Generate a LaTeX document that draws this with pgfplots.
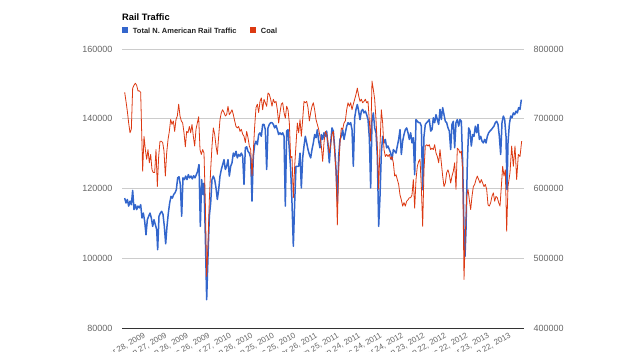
\documentclass[border=0pt]{standalone}
\usepackage{fontspec}
\setmainfont{Liberation Sans}
\usepackage{pgfplots}
\pgfplotsset{compat=1.18}
\usepackage{pgfplotstable}
\definecolor{railblue}{HTML}{3366CC}
\definecolor{coalred}{HTML}{DC3912}
\definecolor{gridgray}{HTML}{CCCCCC}
\definecolor{ticktext}{HTML}{666666}
\definecolor{basegray}{HTML}{333333}

\pgfplotstableread{
x y
124.67 117300
126.0 115900
127.33 116900
128.67 115000
130.0 116400
131.33 115400
132.67 119500
134.0 114000
135.33 115400
136.67 114000
138.0 115000
139.33 114500
140.67 115400
142.0 111600
143.33 113000
144.67 110700
146.0 106800
147.33 111100
148.67 112100
150.0 113000
151.33 111600
152.67 109200
154.0 111100
155.33 109700
156.67 108300
157.67 102500
159.0 112100
160.33 113000
161.67 113500
163.0 112600
164.33 109200
165.67 104200
167.0 109200
168.33 113000
169.67 115900
171.0 117800
172.33 117300
173.67 118300
175.0 118800
176.33 119700
177.67 123100
179.0 123400
180.33 121200
181.67 112100
183.0 123100
184.33 122600
185.67 123600
187.0 122600
188.33 124000
189.67 123100
191.0 123600
192.33 122800
193.67 123700
195.0 123100
196.33 124000
197.67 125000
199.0 126900
200.33 109200
201.67 122600
203.0 118300
204.0 121600
205.33 106300
206.67 88200
208.0 100600
209.33 112100
210.67 115900
212.0 122600
213.33 123600
214.67 122600
216.0 120200
217.33 116900
218.67 119700
220.0 123600
221.33 125500
222.67 126900
224.0 128300
225.33 125500
226.67 126400
228.0 128300
229.33 123600
230.67 126400
232.0 127400
233.33 130200
234.67 129300
236.0 130700
237.33 128800
238.67 129800
240.0 129300
241.33 130200
242.67 129300
244.0 121200
245.33 131700
246.67 132000
248.0 130700
249.33 130200
250.67 128800
252.0 116400
253.33 129300
254.67 132600
256.0 133600
257.33 132600
258.67 135500
260.0 136000
261.33 135000
262.67 138400
264.0 138400
265.33 136900
266.67 125500
268.0 137400
269.33 138400
270.67 138900
272.0 138900
273.33 138400
274.67 137400
276.0 138100
277.33 136900
278.67 135500
280.0 136000
281.33 135500
282.67 136000
284.0 135000
285.33 115000
286.67 136500
288.0 136900
289.33 131200
290.67 125500
292.0 115900
293.33 103500
294.67 115900
296.0 126400
297.33 126400
298.67 126400
300.0 130200
301.33 120200
302.67 128800
304.0 132200
305.33 135000
306.67 133100
308.0 131200
309.33 129800
310.67 128800
312.0 131200
313.33 133100
314.67 135500
316.0 134600
317.33 136900
318.67 133600
320.0 131700
321.33 135500
322.67 134100
324.0 136000
325.33 135000
326.67 136500
328.0 132200
329.33 127400
330.67 133100
332.0 137400
333.33 136500
334.67 131700
336.0 125500
337.33 116400
338.67 129300
340.0 134100
341.33 135000
342.67 136900
344.0 134100
345.33 136000
346.67 137900
348.0 138900
349.33 138400
350.67 138900
352.0 136900
353.33 126400
354.67 140300
356.0 142700
357.33 144100
358.67 142200
360.0 139800
361.33 142200
362.67 142700
364.0 141700
365.33 142200
366.67 141200
368.0 139800
369.33 134600
370.67 120200
372.0 139300
373.33 141700
374.67 137400
376.0 136000
377.33 129300
378.67 109200
380.0 117800
381.33 130200
382.67 135000
384.0 133100
385.33 134100
386.67 131700
388.0 132200
389.33 131200
390.67 130200
392.0 128300
393.33 131200
394.67 130700
396.0 130200
397.33 132200
398.67 134100
400.0 136900
401.33 129800
402.67 133600
404.0 135500
405.33 136900
406.67 137400
408.0 136000
409.33 134100
410.67 136000
412.0 133100
413.33 134600
414.67 124000
416.0 139800
417.33 139300
418.67 138900
420.0 138900
421.33 137900
422.67 119700
424.0 135000
425.33 138400
426.67 138900
428.0 139300
429.33 139800
430.67 136500
432.0 136900
433.33 140300
434.67 138900
436.0 141200
437.33 139800
438.67 138400
440.0 142700
441.33 139800
442.67 143200
444.0 141200
445.33 139300
446.67 138900
448.0 137400
449.33 136500
450.67 131200
452.0 138400
453.33 139300
454.67 131700
456.0 138900
457.33 139800
458.67 137900
460.0 139800
461.33 139300
462.67 127400
464.0 108300
465.0 100600
466.0 108300
467.33 127400
468.67 137400
470.0 136500
471.33 132200
472.67 135500
474.0 135000
475.33 137900
476.67 136000
478.0 138400
479.33 134100
480.67 135000
482.0 133600
483.33 133100
484.67 134100
486.0 133100
487.33 135000
488.67 136000
490.0 136500
491.33 136900
492.67 137400
494.0 137900
495.33 138900
496.67 139300
498.0 138400
499.33 135000
500.67 129800
502.0 138900
503.33 140800
504.67 139800
506.0 135000
507.0 119700
508.0 133100
509.33 138400
510.67 140800
512.0 140300
513.33 141700
514.67 141200
516.0 142200
517.33 141700
518.67 143200
520.0 142700
521.33 145500
}\railtable

\pgfplotstableread{
x y
124.67 738000
126.0 725000
127.33 711000
128.67 694000
130.0 680000
131.33 685000
132.67 744000
134.0 748000
135.33 751000
136.67 748000
138.0 740000
139.33 740000
140.67 738000
142.67 625000
144.0 675000
145.33 656000
146.67 642000
148.0 656000
149.33 637000
150.67 649000
152.0 627000
153.33 623000
154.67 623000
156.0 656000
157.33 603000
158.67 646000
160.0 668000
161.33 668000
162.67 666000
164.0 654000
165.33 618000
166.67 651000
168.0 670000
169.33 682000
170.67 699000
172.0 692000
173.33 697000
174.67 682000
176.0 699000
177.33 704000
178.67 721000
180.0 704000
181.33 697000
182.67 694000
184.0 680000
185.33 660000
186.67 682000
188.0 680000
189.33 689000
190.67 680000
192.0 692000
193.33 675000
194.67 661000
196.0 685000
197.33 694000
198.67 703000
200.0 656000
201.33 649000
202.67 656000
204.0 651000
205.33 580000
206.67 474000
208.0 522000
209.33 584000
210.67 627000
212.0 661000
213.33 687000
214.67 678000
216.0 661000
217.33 649000
218.67 675000
220.0 699000
221.33 709000
222.67 713000
224.0 709000
225.33 704000
226.67 706000
228.0 718000
229.33 706000
230.67 709000
232.0 713000
233.33 706000
234.67 697000
236.0 689000
237.33 687000
238.67 689000
240.0 682000
241.33 685000
242.67 678000
244.0 675000
245.33 666000
246.67 682000
248.0 673000
249.33 661000
250.67 656000
252.0 618000
253.33 654000
254.67 689000
256.0 716000
257.33 721000
258.67 709000
260.0 725000
261.33 730000
262.67 713000
264.0 728000
265.33 723000
266.67 718000
268.0 737000
269.33 735000
270.67 728000
272.0 718000
273.33 728000
274.67 723000
276.0 725000
277.33 713000
278.67 694000
280.0 709000
281.33 721000
282.67 723000
284.0 709000
285.33 701000
286.67 718000
288.0 713000
289.33 694000
290.67 644000
292.0 646000
293.33 587000
294.67 632000
296.0 663000
297.33 694000
298.67 680000
300.0 699000
301.33 675000
302.67 699000
304.0 725000
305.33 723000
306.67 725000
308.0 716000
309.33 697000
310.67 709000
312.0 718000
313.33 723000
314.67 713000
316.0 699000
317.33 692000
318.67 685000
320.0 675000
321.33 661000
322.67 639000
324.0 666000
325.33 682000
326.67 678000
328.0 666000
329.33 651000
330.67 663000
332.0 678000
333.33 682000
334.67 651000
336.0 627000
337.33 548000
338.67 627000
340.0 666000
341.33 687000
342.67 685000
344.0 694000
345.33 697000
346.67 713000
348.0 723000
349.33 718000
350.67 723000
352.0 713000
353.33 721000
354.67 728000
356.0 735000
357.33 744000
358.67 733000
360.0 725000
361.33 728000
362.67 723000
364.0 725000
365.33 728000
366.67 723000
368.0 725000
369.33 697000
370.67 668000
372.0 754000
373.33 742000
374.67 728000
376.0 699000
377.33 661000
378.67 599000
380.0 661000
381.33 713000
382.67 694000
384.0 656000
385.33 646000
386.67 649000
388.0 646000
389.33 649000
390.67 642000
392.0 646000
393.33 637000
394.67 618000
396.0 620000
397.33 613000
398.67 606000
400.0 591000
401.33 584000
402.67 575000
404.0 580000
405.33 575000
406.67 582000
408.0 584000
409.33 587000
410.67 587000
412.0 591000
413.33 613000
414.67 572000
416.0 613000
417.33 632000
418.67 639000
420.0 642000
421.33 603000
422.67 546000
424.0 627000
425.33 661000
426.67 663000
428.0 661000
429.33 663000
430.67 656000
432.0 658000
433.33 656000
434.67 663000
436.0 651000
437.33 646000
438.67 637000
440.0 656000
441.33 637000
442.67 618000
444.0 603000
445.33 608000
446.67 623000
448.0 627000
449.33 620000
450.67 608000
452.0 618000
453.33 625000
454.67 637000
456.0 599000
457.33 658000
458.67 656000
460.0 651000
461.33 654000
462.67 627000
464.0 470000
465.33 532000
466.67 589000
468.0 599000
469.33 584000
470.67 570000
472.0 589000
473.33 603000
474.67 606000
476.0 613000
477.33 618000
478.67 613000
480.0 608000
481.33 613000
482.67 608000
484.0 603000
485.33 606000
486.67 599000
488.0 577000
489.33 575000
490.67 580000
492.0 589000
493.33 594000
494.67 582000
496.0 589000
497.33 587000
498.67 580000
500.0 575000
501.33 603000
502.67 632000
504.0 618000
505.33 627000
506.67 539000
508.0 603000
510.0 623000
511.67 661000
513.33 632000
515.0 661000
516.67 613000
518.33 649000
520.0 646000
521.67 668000
}\coaltable

\begin{document}
\begin{tikzpicture}
\useasboundingbox (0pt,0pt) rectangle (624pt,351pt);
\clip (0pt,0pt) rectangle (624pt,351pt);
\begin{axis}[
  at={(122pt,22.7pt)}, anchor=south west,
  width=402.3pt, height=279.3pt, scale only axis,
  xmin=122, xmax=524.3,
  ymin=80000, ymax=160000,
  ytick={80000,100000,120000,140000,160000},
  yticklabels={80000,100000,120000,140000,160000},
  scaled y ticks=false,
  xtick={141,162.5,184,205.5,227,248.5,270,291.5,313,334.5,356,377.5,399,420.5,442,463.5,485,506.5},
  xticklabels={{Mar 28, 2009},{Jun 27, 2009},{Sep 26, 2009},{Dec 26, 2009},{Mar 27, 2010},{Jun 26, 2010},{Sep 25, 2010},{Dec 25, 2010},{Mar 26, 2011},{Jun 25, 2011},{Sep 24, 2011},{Dec 24, 2011},{Mar 24, 2012},{Jun 23, 2012},{Sep 22, 2012},{Dec 22, 2012},{Mar 23, 2013},{Jun 22, 2013}},
  axis x line*=bottom, axis y line*=left,
  x axis line style={-, draw=basegray, line width=0.9pt},
  y axis line style={draw=none},
  ymajorgrids, major grid style={draw=gridgray, line width=0.9pt},
  major tick length=0pt, tick style={draw=none},
  yticklabel style={font=\fontsize{9}{10}\selectfont, text=ticktext, anchor=east, inner sep=0pt, xshift=-9.3pt},
  xticklabel style={font=\fontsize{8}{9}\selectfont, text=ticktext, rotate=30, anchor=north east, inner sep=0pt, yshift=-4pt},
]
\addplot[railblue, line width=1.5pt, line join=round, mark=none] table[x=x,y=y]{\railtable};
\end{axis}
\begin{axis}[
  at={(122pt,22.7pt)}, anchor=south west,
  width=402.3pt, height=279.3pt, scale only axis,
  xmin=122, xmax=524.3,
  ymin=400000, ymax=800000,
  ytick={400000,500000,600000,700000,800000},
  yticklabels={400000,500000,600000,700000,800000},
  scaled y ticks=false,
  xtick=\empty,
  axis y line*=right, axis x line=none,
  y axis line style={draw=none},
  major tick length=0pt, tick style={draw=none},
  yticklabel style={font=\fontsize{9}{10}\selectfont, text=ticktext, anchor=west, inner sep=0pt, xshift=9pt},
]
\addplot[coalred, line width=0.8pt, line join=round, mark=none] table[x=x,y=y]{\coaltable};
\end{axis}
\node[anchor=base west, inner sep=0pt, font={\fontsize{9.3}{11}\selectfont\bfseries}] at (122pt,330.3pt) {Rail Traffic};
\fill[railblue] (122.3pt,317.7pt) rectangle (128.3pt,323.7pt);
\node[anchor=base west, inner sep=0pt, text={black!87}, font={\fontsize{7.5}{9}\selectfont\bfseries}] at (132.7pt,317.7pt) {Total N. American Rail Traffic};
\fill[coalred] (250pt,317.7pt) rectangle (256pt,323.7pt);
\node[anchor=base west, inner sep=0pt, text={black!87}, font={\fontsize{7.5}{9}\selectfont\bfseries}] at (260.7pt,317.7pt) {Coal};
\end{tikzpicture}
\end{document}
